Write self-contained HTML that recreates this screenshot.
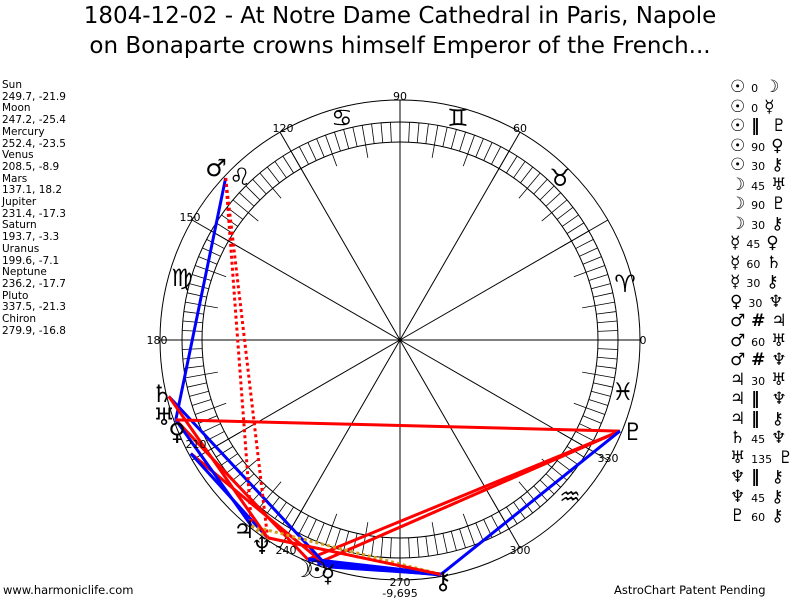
<!DOCTYPE html>
<html><head><meta charset="utf-8">
<style>
body{margin:0;background:#fff;width:800px;height:600px;overflow:hidden;position:relative;font-family:"DejaVu Sans","Liberation Sans",sans-serif;}
.t{position:absolute;left:0;width:800px;text-align:center;font-size:23px;color:#000;}
#left{position:absolute;left:2px;top:80px;font-size:10.5px;line-height:11.7px;}
#right{position:absolute;left:730px;top:78px;font-size:17px;white-space:pre;font-weight:bold;}
#right div{height:19.5px;line-height:19.5px;overflow:visible;}
#right span{font-size:11px;font-weight:normal;}
.ft{position:absolute;top:583px;font-size:11.5px;}
svg{position:absolute;left:0;top:0}
</style></head><body>
<div class="t" style="top:3px">1804-12-02 - At Notre Dame Cathedral in Paris, Napole</div>
<div class="t" style="top:33px">on Bonaparte crowns himself Emperor of the French...</div>
<div id="left">Sun<br>249.7, -21.9<br>Moon<br>247.2, -25.4<br>Mercury<br>252.4, -23.5<br>Venus<br>208.5, -8.9<br>Mars<br>137.1, 18.2<br>Jupiter<br>231.4, -17.3<br>Saturn<br>193.7, -3.3<br>Uranus<br>199.6, -7.1<br>Neptune<br>236.2, -17.7<br>Pluto<br>337.5, -21.3<br>Chiron<br>279.9, -16.8</div>
<svg id="s" width="800" height="600" font-family="DejaVu Sans, sans-serif">
<g id="g"></g>
<g font-size="11" text-anchor="middle">
<text x="400" y="100">90</text><text x="283" y="132">120</text><text x="520" y="132">60</text>
<text x="190" y="221">150</text><text x="157" y="344">180</text><text x="643" y="344">0</text>
<text x="196" y="448">210</text><text x="286" y="554">240</text><text x="400" y="586">270</text>
<text x="520" y="554">300</text><text x="608" y="462">330</text><text x="400" y="597">-9,695</text>
</g>
<g font-size="24" text-anchor="middle">
<text x="342" y="126">♋</text><text x="458" y="126">♊</text><text x="560" y="186">♉</text>
<text x="625" y="292">♈</text><text x="623" y="400">♓</text><text x="570" y="505">♒</text>
<text x="240" y="185">♌</text><text x="182" y="286">♍</text>
<text x="216" y="176">♂</text><text x="162" y="402">♄</text><text x="164" y="425">♅</text>
<text x="177" y="440">♀</text><text x="244" y="538">♃</text><text x="262" y="554">♆</text>
<text x="303" y="577">☽</text><text x="317" y="578">☉</text><text x="328" y="582">☿</text>
<text x="443" y="589">⚷</text><text x="633" y="440">♇</text>
</g>
</svg>
<div id="right"><div>☉ <span>0</span> ☽</div><div>☉ <span>0</span> ☿</div><div>☉ ‖  ♇</div><div>☉ <span>90</span> ♀</div><div>☉ <span>30</span> ⚷</div><div>☽ <span>45</span> ♅</div><div>☽ <span>90</span> ♇</div><div>☽ <span>30</span> ⚷</div><div>☿ <span>45</span> ♀</div><div>☿ <span>60</span> ♄</div><div>☿ <span>30</span> ⚷</div><div>♀ <span>30</span> ♆</div><div>♂ # ♃</div><div>♂ <span>60</span> ♅</div><div>♂ # ♆</div><div>♃ <span>30</span> ♅</div><div>♃ ‖  ♆</div><div>♃ ‖  ⚷</div><div>♄ <span>45</span> ♆</div><div>♅ <span>135</span> ♇</div><div>♆ ‖  ⚷</div><div>♆ <span>45</span> ⚷</div><div>♇ <span>60</span> ⚷</div></div>
<div class="ft" style="left:3px">www.harmoniclife.com</div>
<div class="ft" style="left:614px">AstroChart Patent Pending</div>
<script>
var g=document.getElementById('g'),cx=400,cy=340,h='';
function P(a,r){a=a*Math.PI/180;return[cx+r*Math.cos(a),cy-r*Math.sin(a)];}
function L(a,b,c,w,d){h+='<line x1="'+a[0]+'" y1="'+a[1]+'" x2="'+b[0]+'" y2="'+b[1]+'" stroke="'+c+'" stroke-width="'+w+'"'+(d?' stroke-dasharray="'+d+'"':'')+'/>';}
h+='<circle cx="400" cy="340" r="240" fill="none" stroke="#000"/><circle cx="400" cy="340" r="218" fill="none" stroke="#000"/><circle cx="400" cy="340" r="198" fill="none" stroke="#000"/>';
for(var a=0;a<360;a+=30)L([cx,cy],P(a,240),'#000',1);
for(var a=0;a<360;a+=2.5){L(P(a,198),P(a,218),'#000',0.8);}
for(var a=0;a<360;a+=10){L(P(a,185),P(a,198),'#000',0.8);}
var p={su:249.7,mo:247.2,me:252.4,ve:208.5,ma:137.1,ju:231.4,sa:193.7,ur:199.6,ne:236.2,pl:337.5,ch:279.9};
function A(x,y,c,w,d){L(P(p[x],238),P(p[y],238),c,w,d);}
var R='#f00',B='#00f',G='#d4a017';
A('su','pl',G,3,'3,3');A('su','pl',R,3);A('su','ch',B,4);A('mo','ur',R,3);A('mo','pl',R,3);A('mo','ch',B,4);
A('me','ve',R,3);A('me','sa',B,3);A('me','ch',B,3);A('ve','ne',B,3);A('ma','ju',R,3,'3,3');A('ma','ur',B,3);
A('ma','ne',R,3,'3,3');A('ju','ur',B,3);A('ju','ne',G,3,'3,3');A('ju','ch',G,3,'3,3');A('sa','ne',R,3);A('ur','pl',R,3);
A('ne','ch',G,3,'3,3');A('ne','ch',R,3);A('pl','ch',B,3);
g.innerHTML=h;
</script>
</body></html>
